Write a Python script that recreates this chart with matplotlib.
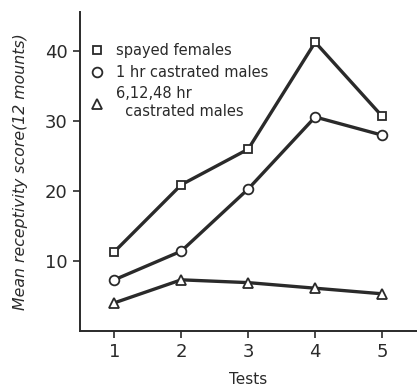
import matplotlib.pyplot as plt
from matplotlib.lines import Line2D

tests = [1, 2, 3, 4, 5]
spayed_females = [11.3, 20.9, 26.0, 41.3, 30.7]
castrated_1hr = [7.3, 11.4, 20.3, 30.6, 28.0]
castrated_6_12_48hr = [4.0, 7.3, 6.9, 6.1, 5.3]
labels = ["spayed females", "1 hr castrated males", "6,12,48 hr\n  castrated males"]
yticks = [10, 20, 30, 40]

plt.rcParams["font.family"] = ["DejaVu Sans"]
fig = plt.figure(figsize=(4.17, 3.92), dpi=100)
ax = fig.add_axes([0.192, 0.156, 0.808, 0.813])

color = "#2a2a2a"
series = [
    (spayed_females, "s", 5.5),
    (castrated_1hr, "o", 7),
    (castrated_6_12_48hr, "^", 7),
]
for values, marker, ms in series:
    ax.plot(tests, values, color=color, lw=2.4, marker=marker, ms=ms,
            mfc="white", mec=color, mew=1.3)

ax.set_xlim(0.49, 5.52)
ax.set_ylim(0, 45.6)
ax.set_xticks(tests)
ax.set_yticks(yticks)
ax.tick_params(direction="out", length=5, width=1.2, labelsize=13, color=color,
               labelcolor=color, pad=4)
for side in ["top", "right"]:
    ax.spines[side].set_visible(False)
for side in ["left", "bottom"]:
    ax.spines[side].set_linewidth(1.4)
    ax.spines[side].set_color(color)

ax.set_xlabel("Tests", fontsize=11, color=color, labelpad=8)
ax.set_ylabel("Mean receptivity score(12 mounts)", fontsize=11.3, style="italic",
              color=color, labelpad=12)

handles = [Line2D([], [], ls="none", marker=m, ms=ms, mfc="white", mec=color,
                  mew=1.3) for _, m, ms in series]
ax.legend(handles, labels, loc="upper left", bbox_to_anchor=(0.01, 0.925),
          frameon=False, fontsize=10.5, handlelength=0.8, handletextpad=0.9,
          labelspacing=0.45, borderpad=0, labelcolor=color)

fig.savefig("out.png", dpi=100)
